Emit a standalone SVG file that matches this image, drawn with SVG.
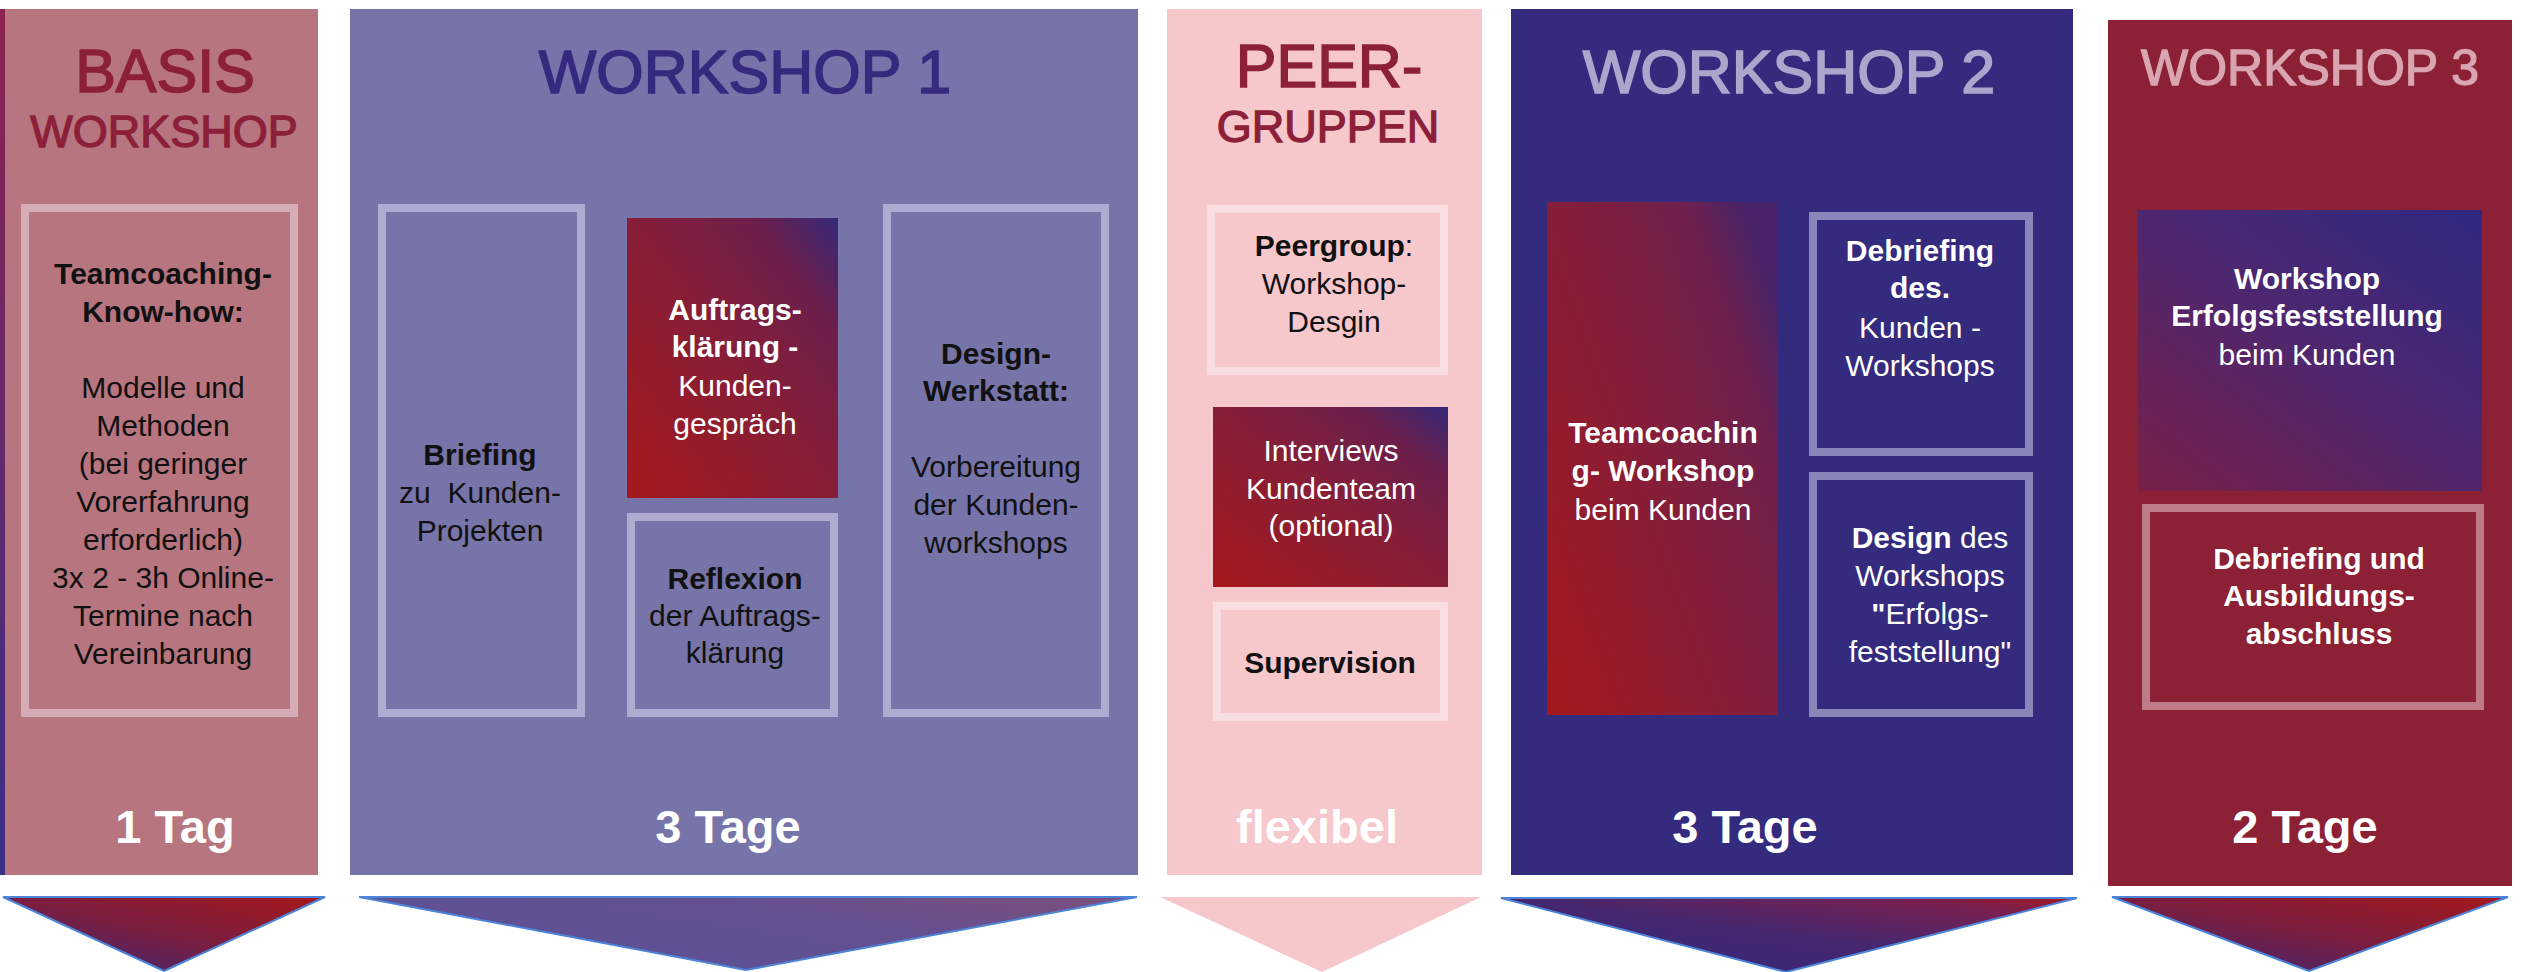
<svg xmlns="http://www.w3.org/2000/svg" width="2525" height="972" viewBox="0 0 2525 972">
<defs>
<style>
text{font-family:"Liberation Sans",Arial,Helvetica,sans-serif;}
.t1{font-size:61px;text-anchor:middle;stroke-width:1.6;}
.t2{font-size:45px;text-anchor:middle;stroke-width:1.3;}
.red{fill:#8C2039;stroke:#8C2039;}
.b{font-size:30px;text-anchor:middle;}
.bb{font-size:30px;font-weight:bold;text-anchor:middle;}
.day{font-size:47px;font-weight:bold;fill:#ffffff;text-anchor:middle;}
.dk{fill:#111111;}
.wt{fill:#ffffff;}
.frame{stroke-width:8;}
.arr{stroke:#4C84DA;stroke-width:2;stroke-linejoin:miter;}
</style>
<linearGradient id="gRed" x1="0" y1="1" x2="1" y2="0">
<stop offset="0" stop-color="#A5181C"/>
<stop offset="0.5" stop-color="#871E37"/>
<stop offset="0.8" stop-color="#6C1F4C"/>
<stop offset="1" stop-color="#352979"/>
</linearGradient>
<linearGradient id="gTall" x1="0" y1="1" x2="1" y2="0.2">
<stop offset="0" stop-color="#A5181C"/>
<stop offset="0.55" stop-color="#831E3B"/>
<stop offset="0.85" stop-color="#6E204D"/>
<stop offset="1" stop-color="#4A2468"/>
</linearGradient>
<linearGradient id="gBlue" x1="0" y1="1" x2="0.9" y2="0">
<stop offset="0" stop-color="#781F47"/>
<stop offset="0.55" stop-color="#4D2770"/>
<stop offset="1" stop-color="#31297F"/>
</linearGradient>
<linearGradient id="gStrip" x1="0" y1="0" x2="0" y2="1">
<stop offset="0" stop-color="#8E2350"/>
<stop offset="1" stop-color="#3A2F88"/>
</linearGradient>
<linearGradient id="gArr" x1="0" y1="1" x2="1" y2="0">
<stop offset="0" stop-color="#33297D"/>
<stop offset="0.5" stop-color="#7A1E40"/>
<stop offset="1" stop-color="#A5181C"/>
</linearGradient>
<linearGradient id="gArr2" x1="0" y1="0.6" x2="1" y2="0">
<stop offset="0" stop-color="#5A5197"/>
<stop offset="0.6" stop-color="#65508E"/>
<stop offset="1" stop-color="#7E4E7C"/>
</linearGradient>
<linearGradient id="gArr4" x1="0" y1="1" x2="1" y2="0">
<stop offset="0" stop-color="#33297D"/>
<stop offset="0.5" stop-color="#45276F"/>
<stop offset="0.85" stop-color="#7A2050"/>
<stop offset="1" stop-color="#A5181C"/>
</linearGradient>
</defs>
<rect width="2525" height="972" fill="#ffffff"/>

<g id="basis-workshop">
<rect x="0" y="9" width="6" height="866" fill="url(#gStrip)"/>
<rect x="5" y="9" width="313" height="866" fill="#B77580"/>
<text class="t1 red" x="165" y="92">BASIS</text>
<text class="t2 red" x="164" y="147">WORKSHOP</text>
<g id="basis-knowhow">
<rect class="frame" x="25" y="208" width="269" height="505" fill="none" stroke="#D6ADB5"/>
<text class="bb dk" x="163" y="284">Teamcoaching-</text>
<text class="bb dk" x="163" y="322">Know-how:</text>
<text class="b dk" x="163" y="398">Modelle und</text>
<text class="b dk" x="163" y="436">Methoden</text>
<text class="b dk" x="163" y="474">(bei geringer</text>
<text class="b dk" x="163" y="512">Vorerfahrung</text>
<text class="b dk" x="163" y="550">erforderlich)</text>
<text class="b dk" x="163" y="588">3x 2 - 3h Online-</text>
<text class="b dk" x="163" y="626">Termine nach</text>
<text class="b dk" x="163" y="664">Vereinbarung</text>
</g>
<text class="day" x="175" y="843">1 Tag</text>
</g>

<g id="workshop-1">
<rect x="350" y="9" width="788" height="866" fill="#7774AA"/>
<text class="t1" x="745" y="93" fill="#342A7E" stroke="#342A7E">WORKSHOP 1</text>
<g id="ws1-briefing">
<rect class="frame" x="382" y="208" width="199" height="505" fill="none" stroke="#AEACD0"/>
<text class="bb dk" x="480" y="465">Briefing</text>
<text class="b dk" x="480" y="503">zu&#160; Kunden-</text>
<text class="b dk" x="480" y="541">Projekten</text>
</g>
<g id="ws1-auftrag">
<rect x="627" y="218" width="211" height="280" fill="url(#gRed)"/>
<text class="bb wt" x="735" y="320">Auftrags-</text>
<text class="bb wt" x="735" y="357">klärung -</text>
<text class="b wt" x="735" y="396">Kunden-</text>
<text class="b wt" x="735" y="434">gespräch</text>
</g>
<g id="ws1-reflexion">
<rect class="frame" x="631" y="517" width="203" height="196" fill="none" stroke="#AEACD0"/>
<text class="bb dk" x="735" y="589">Reflexion</text>
<text class="b dk" x="735" y="626">der Auftrags-</text>
<text class="b dk" x="735" y="663">klärung</text>
</g>
<g id="ws1-design">
<rect class="frame" x="887" y="208" width="218" height="505" fill="none" stroke="#AEACD0"/>
<text class="bb dk" x="996" y="364">Design-</text>
<text class="bb dk" x="996" y="401">Werkstatt:</text>
<text class="b dk" x="996" y="477">Vorbereitung</text>
<text class="b dk" x="996" y="515">der Kunden-</text>
<text class="b dk" x="996" y="553">workshops</text>
</g>
<text class="day" x="728" y="843">3 Tage</text>
</g>

<g id="peergruppen">
<rect x="1167" y="9" width="315" height="866" fill="#F6C7CB"/>
<text class="t1 red" x="1329" y="87">PEER-</text>
<text class="t2 red" x="1328" y="142">GRUPPEN</text>
<g id="peer-design">
<rect class="frame" x="1211" y="209" width="233" height="162" fill="none" stroke="#F9DEE2"/>
<text class="b dk" x="1334" y="256"><tspan font-weight="bold">Peergroup</tspan>:</text>
<text class="b dk" x="1334" y="294">Workshop-</text>
<text class="b dk" x="1334" y="332">Desgin</text>
</g>
<g id="peer-interviews">
<rect x="1213" y="407" width="235" height="180" fill="url(#gRed)"/>
<text class="b wt" x="1331" y="461">Interviews</text>
<text class="b wt" x="1331" y="499">Kundenteam</text>
<text class="b wt" x="1331" y="536">(optional)</text>
</g>
<g id="peer-supervision">
<rect class="frame" x="1217" y="606" width="227" height="111" fill="none" stroke="#F9DEE2"/>
<text class="bb dk" x="1330" y="673">Supervision</text>
</g>
<text class="day" x="1317" y="843">flexibel</text>
</g>

<g id="workshop-2">
<rect x="1511" y="9" width="562" height="866" fill="#342A7E"/>
<text class="t1" x="1789" y="93" fill="#AAA7CC" stroke="#AAA7CC">WORKSHOP 2</text>
<g id="ws2-teamcoaching">
<rect x="1547" y="202" width="231" height="513" fill="url(#gTall)"/>
<text class="bb wt" x="1663" y="443">Teamcoachin</text>
<text class="bb wt" x="1663" y="481">g- Workshop</text>
<text class="b wt" x="1663" y="520">beim Kunden</text>
</g>
<g id="ws2-debriefing">
<rect class="frame" x="1813" y="216" width="216" height="236" fill="none" stroke="#8986BA"/>
<text class="bb wt" x="1920" y="261">Debriefing</text>
<text class="bb wt" x="1920" y="298">des.</text>
<text class="b wt" x="1920" y="338">Kunden -</text>
<text class="b wt" x="1920" y="376">Workshops</text>
</g>
<g id="ws2-design">
<rect class="frame" x="1813" y="476" width="216" height="237" fill="none" stroke="#8986BA"/>
<text class="b wt" x="1930" y="548"><tspan font-weight="bold">Design</tspan> des</text>
<text class="b wt" x="1930" y="586">Workshops</text>
<text class="b wt" x="1930" y="624"><tspan font-weight="bold">"</tspan>Erfolgs-</text>
<text class="b wt" x="1930" y="662">feststellung"</text>
</g>
<text class="day" x="1745" y="843">3 Tage</text>
</g>

<g id="workshop-3">
<rect x="2108" y="20" width="404" height="866" fill="#8C2035"/>
<text class="t1" x="2310" y="85" fill="#D9A5B0" stroke="#D9A5B0" style="font-size:50px;stroke-width:1.3">WORKSHOP 3</text>
<g id="ws3-erfolg">
<rect x="2138" y="210" width="344" height="281" fill="url(#gBlue)"/>
<text class="bb wt" x="2307" y="289">Workshop</text>
<text class="bb wt" x="2307" y="326">Erfolgsfeststellung</text>
<text class="b wt" x="2307" y="365">beim Kunden</text>
</g>
<g id="ws3-abschluss">
<rect class="frame" x="2146" y="508" width="334" height="198" fill="none" stroke="#BC7B87"/>
<text class="bb wt" x="2319" y="569">Debriefing und</text>
<text class="bb wt" x="2319" y="606">Ausbildungs-</text>
<text class="bb wt" x="2319" y="644">abschluss</text>
</g>
<text class="day" x="2305" y="843">2 Tage</text>
</g>

<g id="connectors">
<polygon class="arr" points="3,897 325,897 164,971" fill="url(#gArr)"/>
<polygon class="arr" points="359,897 1137,897 746,970" fill="url(#gArr2)"/>
<polygon points="1160,897 1481,897 1322,972" fill="#F6C7CB"/>
<polygon class="arr" points="1501,898 2077,898 1786,972" fill="url(#gArr4)"/>
<polygon class="arr" points="2112,897 2508,897 2309,971" fill="url(#gArr)"/>
</g>
</svg>
